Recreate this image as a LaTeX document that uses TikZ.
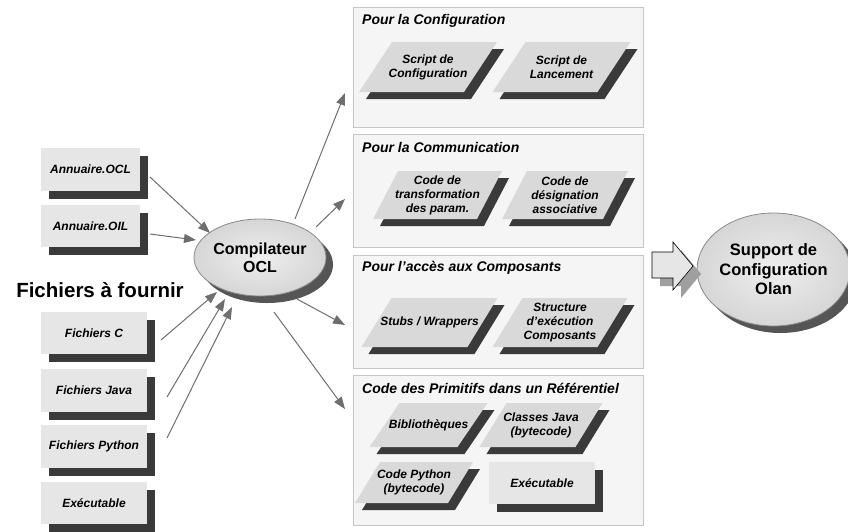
\documentclass[tikz,border=0pt]{standalone}
\usepackage{fontspec}
\setmainfont{Liberation Sans}
\usetikzlibrary{shapes.geometric,shadows,calc,arrows.meta}
\definecolor{boxfill}{HTML}{E6E6E6}
\definecolor{shadowc}{HTML}{3A3A3A}
\definecolor{panelfill}{HTML}{F5F5F5}
\definecolor{panelline}{HTML}{C6C6C6}
\definecolor{parafill}{HTML}{D9D9D9}
\definecolor{arrowc}{HTML}{6E6E6E}
\definecolor{ellline}{HTML}{8A8A8A}
\definecolor{ellshadow}{HTML}{555555}
\definecolor{ellin}{HTML}{EEEEEE}
\definecolor{ellout}{HTML}{D6D6D6}

% slanted item: name, centre x, centre y, edge length, height, slant, text
\newcommand\slantbox[7]{%
  \pgfmathsetmacro\sbxBL{#2-#4/2-#6/2}%
  \pgfmathsetmacro\sbxBR{#2+#4/2-#6/2}%
  \pgfmathsetmacro\sbxTR{#2+#4/2+#6/2}%
  \pgfmathsetmacro\sbxTL{#2-#4/2+#6/2}%
  \pgfmathsetmacro\sbyB{#3+#5/2}%
  \pgfmathsetmacro\sbyT{#3-#5/2}%
  \fill[shadowc, shift={(7,7)}] (\sbxBL,\sbyB) -- (\sbxBR,\sbyB) -- (\sbxTR,\sbyT)
    -- (\sbxTL,\sbyT) -- cycle;
  \fill[parafill] (\sbxBL,\sbyB) -- (\sbxBR,\sbyB) -- (\sbxTR,\sbyT)
    -- (\sbxTL,\sbyT) -- cycle;
  \node[lbl] (#1) at (#2,#3) {#7};%
}

\begin{document}
\begin{tikzpicture}[x=1pt,y=-1pt,
  lbl/.style={font=\fontsize{12}{14}\selectfont\bfseries\itshape, align=center, inner sep=0pt},
  filebox/.style={lbl, rectangle, fill=boxfill, inner sep=0pt, outer sep=0pt,
    minimum height=43pt,
    drop shadow={shadow xshift=7.5pt, shadow yshift=-7.5pt, fill=shadowc, opacity=1}},
  panel/.style={rectangle, fill=panelfill, draw=panelline, line width=0.8pt,
    minimum width=290pt, inner sep=0pt, outer sep=0pt},
  ptitle/.style={font=\fontsize{14}{16}\selectfont\bfseries\itshape, anchor=base west, inner sep=0pt},
  bigell/.style={ellipse, inner color=ellin, outer color=ellout, draw=ellline,
    line width=0.8pt, inner sep=0pt, outer sep=0pt, align=center,
    drop shadow={shadow xshift=7pt, shadow yshift=-7pt, fill=ellshadow, opacity=1}},
  arr/.style={draw=arrowc, line width=1pt, -{Triangle[length=12pt,width=9pt]}}
]
\useasboundingbox (0,0) rectangle (848,531);

% output panels
\node[panel, minimum height=120pt] (P1) at (498,67) {};
\node[panel, minimum height=113pt] (P2) at (498,190.5) {};
\node[panel, minimum height=113pt] (P3) at (498,311.5) {};
\node[panel, minimum height=150pt] (P4) at (498,450) {};

\node[ptitle] (T1) at (362,24) {Pour la Configuration};
\node[ptitle] (T2) at (362,152) {Pour la Communication};
\node[ptitle] (T3) at (362,271) {Pour l’accès aux Composants};
\node[ptitle] (T4) at (362,393) {Code des Primitifs dans un Référentiel};

% generated items
\slantbox{S1}{428}{67}{105}{50}{33}{Script de\\Configuration}
\slantbox{S2}{561.5}{67}{105}{50}{33}{Script de\\Lancement}

\slantbox{C1}{437.5}{195}{104}{48}{25}{Code de\\transformation\\des param.}
\slantbox{C2}{565}{195}{101}{48}{25}{Code de\\désignation\\associative}

\slantbox{W1}{429.5}{322.5}{106}{49}{30}{Stubs / Wrappers}
\slantbox{W2}{560}{322.5}{105}{49}{30}{Structure\\d’exécution\\Composants}

\slantbox{R1}{428.5}{425}{88}{44}{30}{Bibliothèques}
\slantbox{R2}{541}{425}{96}{44}{27}{Classes Java\\(bytecode)}
\slantbox{R3}{414}{482.5}{93}{41}{25}{Code Python\\(bytecode)}
\node[filebox, minimum width=106pt, minimum height=42pt] (R4) at (542,483) {Exécutable};

% input files
\node[filebox, minimum width=99pt] (A1) at (90.5,169.5) {Annuaire.OCL};
\node[filebox, minimum width=99pt, minimum height=42pt] (A2) at (90.5,226) {Annuaire.OIL};
\node[font=\fontsize{20.5}{24}\selectfont\bfseries] (lab) at (100,290) {Fichiers à fournir};
\node[filebox, minimum width=106pt, minimum height=42pt] (F1) at (94,333) {Fichiers C};
\node[filebox, minimum width=106pt, minimum height=43pt] (F2) at (94,390.5) {Fichiers Java};
\node[filebox, minimum width=106pt, minimum height=43pt] (F3) at (94,446.5) {Fichiers Python};
\node[filebox, minimum width=106pt, minimum height=42pt] (F4) at (94,503) {Exécutable};

% compiler and runtime support
\node[bigell, minimum width=114pt, minimum height=77pt,
  font=\fontsize{16}{18}\selectfont\bfseries] (comp) at (260,257.5) {Compilateur\\OCL};
\node[bigell, minimum width=133pt, minimum height=113pt,
  font=\fontsize{16.5}{19.5}\selectfont\bfseries] (supp) at (773.5,269.5)
  {Support de\\Configuration\\Olan};

% block arrow towards the runtime support
\fill[gray!75] (660,260) -- (681,260) -- (681,250) -- (701,274) -- (681,298)
  -- (681,286) -- (660,286) -- cycle;
\filldraw[fill=boxfill, draw=black, line width=0.6pt]
  (652,252) -- (673,252) -- (673,242) -- (693,266) -- (673,290)
  -- (673,278) -- (652,278) -- cycle;

% inputs into the compiler
\draw[arr] ($(A1.east)+(10,7.5)$) -- ($(comp.center)+(-50,-24.5)$);
\draw[arr] ($(A2.east)+(10,8)$) -- ($(comp.center)+(-64,-17.5)$);
\draw[arr] ($(F1.east)+(14,7)$) -- ($(comp.center)+(-43,34.5)$);
\draw[arr] ($(F2.east)+(20,6.5)$) -- ($(comp.center)+(-35,41.5)$);
\draw[arr] ($(F3.east)+(20,-8.5)$) -- ($(comp.center)+(-28,49.5)$);

% compiler outputs
\draw[arr] ($(comp.center)+(35,-38.5)$) -- ($(P1.west)+(-8,26)$);
\draw[arr] ($(comp.center)+(56,-30.5)$) -- ($(P2.west)+(-8,8.5)$);
\draw[arr] ($(comp.center)+(37,41.5)$) -- ($(P3.west)+(-8,13.5)$);
\draw[arr] ($(comp.center)+(14,54.5)$) -- ($(P4.west)+(-8,-41)$);
\end{tikzpicture}
\end{document}
